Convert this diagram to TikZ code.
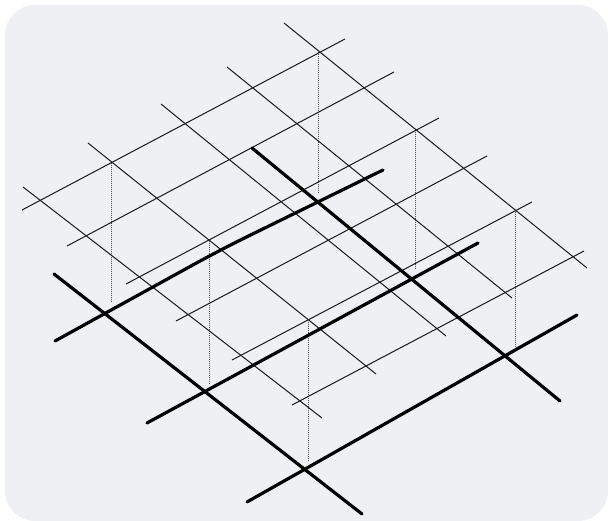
\documentclass[tikz,border=0pt]{standalone}
\definecolor{panel}{HTML}{EFF0F4}
\begin{document}
\begin{tikzpicture}[x=1pt,y=-1pt,
  thinline/.style={draw=black!90,line width=1pt},
  thickline/.style={draw=black,line width=3.2pt,line cap=round},
  dropline/.style={draw=black!70,line width=0.8pt,dash pattern=on 1pt off 1pt}]
\useasboundingbox (0,0) rectangle (608,521);
\fill[panel,rounded corners=30pt] (5,5) rectangle (608,521);
% drop lines
\foreach \x/\a/\b in {111.5/163/303,209/241/385,308.5/322/462,318/52/193,415.5/130/270,515/210/348}
  \draw[dropline] (\x,\a) -- (\x,\b);
% upper thin grid
\foreach \a/\b/\c/\d in {22/210/345/39,67/246/394/72,126/284/439/118,176/321/487/156,232/360/532/202,292/405/584/251,
  23/187/322/418,88/143/376/374,161/104/446/336,227/67/512/298,284/23/587/268}
  \draw[thinline] (\a,\b) -- (\c,\d);
% lower thick grid
\foreach \a/\b/\c/\d in {147/423/478/243,247/502/577/315,54/274/362/514,252/148/560/401}
  \draw[thickline] (\a,\b) -- (\c,\d);
\draw[thickline,rounded corners=30pt] (55,341) -- (220,250) -- (383,170);
\end{tikzpicture}
\end{document}
